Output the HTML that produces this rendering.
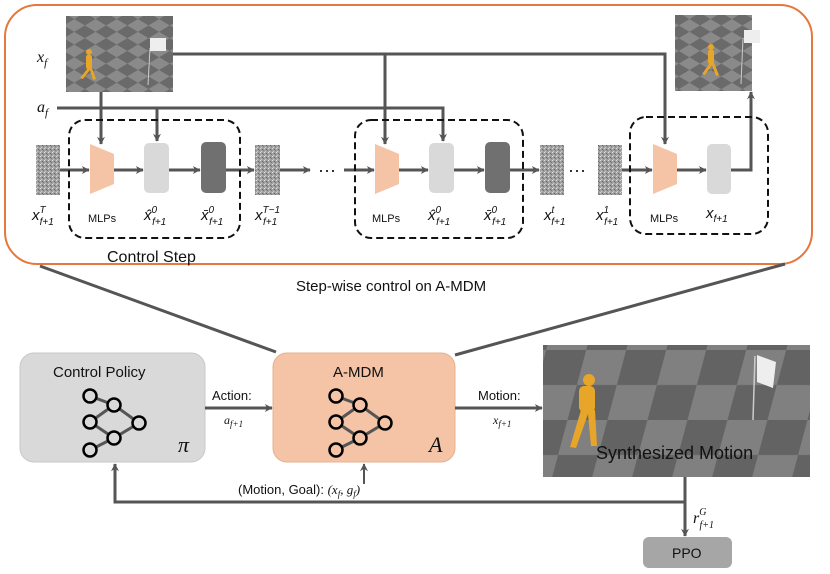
<!DOCTYPE html>
<html><head><meta charset="utf-8"><style>
html,body{margin:0;padding:0;background:#fff;}
svg{display:block;}
text{font-family:"Liberation Sans",sans-serif;fill:#111;}
.m{font-family:"Liberation Serif",serif;font-style:italic;}
</style></head><body>
<svg width="830" height="574" viewBox="0 0 830 574" xmlns="http://www.w3.org/2000/svg">
<defs>
<marker id="ar" viewBox="0 0 10 10" refX="9" refY="5" markerWidth="9" markerHeight="8" orient="auto-start-reverse" markerUnits="userSpaceOnUse">
<path d="M0,0 L10,5 L0,10 L3,5 z" fill="#555"/></marker>
<pattern id="chk" width="30" height="30" patternUnits="userSpaceOnUse" patternTransform="scale(1,0.6) rotate(45)">
<rect width="30" height="30" fill="#8a8a8a"/><rect width="15" height="15" fill="#6a6a6a"/><rect x="15" y="15" width="15" height="15" fill="#6a6a6a"/></pattern>
<pattern id="chk2" width="80" height="70" patternUnits="userSpaceOnUse" patternTransform="skewX(-15)">
<rect width="80" height="70" fill="#808080"/><rect width="40" height="35" fill="#636363"/><rect x="40" y="35" width="40" height="35" fill="#636363"/></pattern>
<pattern id="noise" width="4" height="4" patternUnits="userSpaceOnUse">
<rect width="4" height="4" fill="#a0a0a0"/><rect width="1" height="1" fill="#ddd"/><rect x="2" y="1" width="1" height="1" fill="#666"/><rect x="1" y="3" width="1" height="1" fill="#ccc"/><rect x="3" y="2" width="1" height="1" fill="#777"/></pattern>
</defs>

<rect x="5" y="5" width="807" height="259" rx="32" fill="#fff" stroke="#e8783a" stroke-width="2"/>

<rect x="66" y="16" width="107" height="76" fill="url(#chk)"/>
<g fill="#e7a52a"><circle cx="89" cy="52" r="3"/><rect x="86" y="55" width="6" height="14" rx="2"/><path d="M88,68 L80,78 L83,79 L90,70 L93,80 L96,79 L92,68z"/></g>
<line x1="150" y1="48" x2="148" y2="85" stroke="#ccc" stroke-width="1"/><rect x="150" y="38" width="16" height="13" fill="#eee"/>
<rect x="675" y="15" width="77" height="76" fill="url(#chk)"/>
<g fill="#e7a52a"><circle cx="711" cy="47" r="3"/><rect x="708" y="50" width="6" height="14" rx="2"/><path d="M710,63 L702,74 L705,75 L712,65 L716,76 L719,75 L714,63z"/></g>
<line x1="743" y1="38" x2="741" y2="84" stroke="#ccc" stroke-width="1"/><rect x="744" y="30" width="16" height="13" fill="#eee"/>

<text class="m" x="37" y="62" font-size="16">x<tspan font-size="11" dy="4">f</tspan></text>
<text class="m" x="37" y="112" font-size="16">a<tspan font-size="11" dy="4">f</tspan></text>

<g stroke="#555" stroke-width="3" fill="none">
<polyline points="173,54 665,54 665,144" marker-end="url(#ar)"/>
<line x1="385" y1="54" x2="385" y2="144" marker-end="url(#ar)"/>
<line x1="101" y1="92" x2="101" y2="144" marker-end="url(#ar)"/>
<polyline points="57,108 443,108 443,141" marker-end="url(#ar)"/>
<line x1="157" y1="108" x2="157" y2="141" marker-end="url(#ar)"/>
<polyline points="731,170 751,170 751,92" marker-end="url(#ar)"/>
<line x1="60" y1="170" x2="89" y2="170" marker-end="url(#ar)"/>
<line x1="114" y1="170" x2="143" y2="170" marker-end="url(#ar)"/>
<line x1="169" y1="170" x2="200" y2="170" marker-end="url(#ar)"/>
<line x1="226" y1="170" x2="254" y2="170" marker-end="url(#ar)"/>
<line x1="280" y1="170" x2="310" y2="170" marker-end="url(#ar)"/>
<line x1="344" y1="170" x2="374" y2="170" marker-end="url(#ar)"/>
<line x1="399" y1="170" x2="428" y2="170" marker-end="url(#ar)"/>
<line x1="454" y1="170" x2="484" y2="170" marker-end="url(#ar)"/>
<line x1="510" y1="170" x2="539" y2="170" marker-end="url(#ar)"/>
<line x1="622" y1="170" x2="652" y2="170" marker-end="url(#ar)"/>
<line x1="677" y1="170" x2="706" y2="170" marker-end="url(#ar)"/>
</g>
<text x="318" y="176" font-size="18">···</text>
<text x="568" y="176" font-size="18">···</text>

<g fill="none" stroke="#111" stroke-width="2" stroke-dasharray="7,4">
<rect x="69" y="120" width="171" height="118" rx="16"/>
<rect x="355" y="120" width="168" height="118" rx="16"/>
<rect x="630" y="117" width="138" height="117" rx="16"/>
</g>
<g fill="url(#noise)"><rect x="36" y="145" width="24" height="50"/><rect x="255" y="145" width="25" height="50"/><rect x="540" y="145" width="24" height="50"/><rect x="598" y="145" width="24" height="50"/></g>
<g fill="#f5c3a5"><polygon points="90,144 114,154 114,184 90,194"/><polygon points="375,144 399,154 399,184 375,194"/><polygon points="653,144 677,154 677,184 653,194"/></g>
<g fill="#d9d9d9"><rect x="144" y="143" width="25" height="50" rx="5"/><rect x="429" y="143" width="25" height="50" rx="5"/><rect x="707" y="144" width="24" height="50" rx="5"/></g>
<g fill="#707070"><rect x="201" y="142" width="25" height="51" rx="5"/><rect x="485" y="142" width="25" height="51" rx="5"/></g>

<g font-size="11">
<text x="88" y="222">MLPs</text><text x="372" y="222">MLPs</text><text x="650" y="222">MLPs</text></g>
<g class="m" font-size="15">
<text x="32" y="220">x<tspan font-size="10" dy="-7">T</tspan><tspan font-size="10" dx="-6" dy="12">f+1</tspan></text>
<text x="144" y="220">x̂<tspan font-size="10" dy="-7">0</tspan><tspan font-size="10" dx="-5" dy="12">f+1</tspan></text>
<text x="201" y="220">x̄<tspan font-size="10" dy="-7">0</tspan><tspan font-size="10" dx="-5" dy="12">f+1</tspan></text>
<text x="255" y="220">x<tspan font-size="10" dy="-7">T−1</tspan><tspan font-size="10" dx="-17" dy="12">f+1</tspan></text>
<text x="428" y="220">x̂<tspan font-size="10" dy="-7">0</tspan><tspan font-size="10" dx="-5" dy="12">f+1</tspan></text>
<text x="484" y="220">x̄<tspan font-size="10" dy="-7">0</tspan><tspan font-size="10" dx="-5" dy="12">f+1</tspan></text>
<text x="544" y="220">x<tspan font-size="10" dy="-7">t</tspan><tspan font-size="10" dx="-3" dy="12">f+1</tspan></text>
<text x="596" y="220">x<tspan font-size="10" dy="-7">1</tspan><tspan font-size="10" dx="-5" dy="12">f+1</tspan></text>
<text x="706" y="218">x<tspan font-size="10" dy="4">f+1</tspan></text>
</g>
<text x="107" y="262" font-size="16">Control Step</text>
<text x="296" y="291" font-size="15">Step-wise control on A-MDM</text>

<g stroke="#555" stroke-width="3"><line x1="40" y1="266" x2="276" y2="352"/><line x1="785" y1="264" x2="455" y2="355"/></g>

<rect x="20" y="353" width="185" height="109" rx="14" fill="#d9d9d9" stroke="#c8c8c8"/>
<rect x="273" y="353" width="182" height="109" rx="14" fill="#f5c3a5" stroke="#e8b090"/>
<text x="53" y="377" font-size="15">Control Policy</text>
<text x="333" y="377" font-size="15">A-MDM</text>
<text class="m" x="178" y="452" font-size="22">π</text>
<text class="m" x="429" y="452" font-size="22">A</text>
<g stroke="#555" stroke-width="3">
<line x1="90" y1="396" x2="114" y2="405"/><line x1="114" y1="405" x2="90" y2="422"/><line x1="114" y1="405" x2="139" y2="423"/><line x1="90" y1="422" x2="114" y2="438"/><line x1="114" y1="438" x2="139" y2="423"/><line x1="114" y1="438" x2="90" y2="450"/>
<line x1="336" y1="396" x2="360" y2="405"/><line x1="360" y1="405" x2="336" y2="422"/><line x1="360" y1="405" x2="385" y2="423"/><line x1="336" y1="422" x2="360" y2="438"/><line x1="360" y1="438" x2="385" y2="423"/><line x1="360" y1="438" x2="336" y2="450"/>
</g>
<g stroke="#000" stroke-width="2.5" fill="#d9d9d9"><circle cx="90" cy="396" r="6.5"/><circle cx="114" cy="405" r="6.5"/><circle cx="90" cy="422" r="6.5"/><circle cx="139" cy="423" r="6.5"/><circle cx="114" cy="438" r="6.5"/><circle cx="90" cy="450" r="6.5"/></g>
<g stroke="#000" stroke-width="2.5" fill="#f5c3a5"><circle cx="336" cy="396" r="6.5"/><circle cx="360" cy="405" r="6.5"/><circle cx="336" cy="422" r="6.5"/><circle cx="385" cy="423" r="6.5"/><circle cx="360" cy="438" r="6.5"/><circle cx="336" cy="450" r="6.5"/></g>

<rect x="543" y="345" width="267" height="132" fill="url(#chk2)"/>
<g fill="#e7a52a"><circle cx="589" cy="380" r="6"/><rect x="579" y="386" width="16" height="26" rx="5"/><path d="M581,410 L570,447 L576,448 L588,414 L591,446 L597,446 L595,410z"/></g>
<line x1="755" y1="356" x2="753" y2="420" stroke="#ccc" stroke-width="1.5"/><path d="M757,355 L776,362 L773,388 L757,382z" fill="#eee"/>
<text x="596" y="459" font-size="18">Synthesized Motion</text>

<g stroke="#555" stroke-width="3" fill="none">
<line x1="205" y1="408" x2="272" y2="408" marker-end="url(#ar)"/>
<line x1="455" y1="408" x2="542" y2="408" marker-end="url(#ar)"/>
<polyline points="685,477 685,502 115,502 115,464" marker-end="url(#ar)"/>
<line x1="685" y1="502" x2="685" y2="536" marker-end="url(#ar)"/>
<line x1="364" y1="484" x2="364" y2="464" stroke-width="2" marker-end="url(#ar)"/>
</g>
<text x="212" y="400" font-size="13">Action:</text>
<text class="m" x="224" y="424" font-size="12">a<tspan font-size="9" dy="3">f+1</tspan></text>
<text x="478" y="400" font-size="13">Motion:</text>
<text class="m" x="493" y="424" font-size="12">x<tspan font-size="9" dy="3">f+1</tspan></text>
<text x="238" y="494" font-size="13">(Motion, Goal): <tspan class="m">(x<tspan font-size="9" dy="3">f</tspan><tspan dy="-3">, g</tspan><tspan font-size="9" dy="3">f</tspan><tspan dy="-3">)</tspan></tspan></text>
<text class="m" x="693" y="523" font-size="16">r<tspan font-size="10" dy="-8">G</tspan><tspan font-size="10" dx="-7" dy="13">f+1</tspan></text>
<rect x="643" y="537" width="89" height="31" rx="6" fill="#a6a6a6"/>
<text x="672" y="558" font-size="14">PPO</text>
</svg>
</body></html>
